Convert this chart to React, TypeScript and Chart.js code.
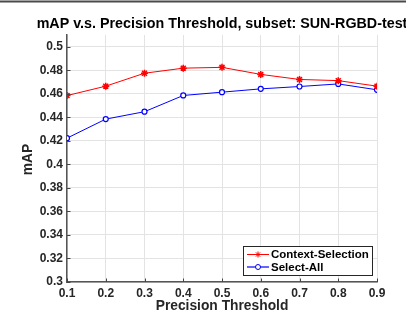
import React, { useEffect, useRef } from "react";
import { Chart, registerables } from "chart.js";

Chart.register(...registerables);

const thresholds = [0.1, 0.2, 0.3, 0.4, 0.5, 0.6, 0.7, 0.8, 0.9];
const contextSelection = [0.4585, 0.4665, 0.4775, 0.4818, 0.4825, 0.4765, 0.4722, 0.4712, 0.4665];
const selectAll = [0.4223, 0.4385, 0.4448, 0.4586, 0.4614, 0.4642, 0.4662, 0.4684, 0.4634];
const xTicks = [0.1, 0.2, 0.3, 0.4, 0.5, 0.6, 0.7, 0.8, 0.9];
const yTicks = [0.3, 0.32, 0.34, 0.36, 0.38, 0.4, 0.42, 0.44, 0.46, 0.48, 0.5];
const titleText = "mAP v.s. Precision Threshold, subset: SUN-RGBD-test";
const xTitle = "Precision Threshold";
const yTitle = "mAP";
const seriesNames = ["Context-Selection", "Select-All"];

const FONT = "'Liberation Sans', Arial, Helvetica, sans-serif";

const decor = {
  id: "decor",
  afterDraw(chart: any) {
    const ctx = chart.ctx;
    const a = chart.chartArea;
    const xs = chart.scales.x;
    const ys = chart.scales.y;
    ctx.save();
    // top border line
    ctx.strokeStyle = "#4a4a4a";
    ctx.lineWidth = 2;
    ctx.beginPath();
    ctx.moveTo(0, 1.5);
    ctx.lineTo(chart.width, 1.5);
    ctx.stroke();
    // inward ticks
    ctx.strokeStyle = "#444";
    ctx.lineWidth = 1;
    ctx.beginPath();
    for (const v of yTicks) {
      const y = Math.round(ys.getPixelForValue(v)) + 0.5;
      ctx.moveTo(a.left, y);
      ctx.lineTo(a.left + 3.5, y);
    }
    for (const v of xTicks) {
      const x = Math.round(xs.getPixelForValue(v)) + 0.5;
      ctx.moveTo(x, a.bottom);
      ctx.lineTo(x, a.bottom - 3.5);
    }
    ctx.stroke();
    // title
    ctx.fillStyle = "#000";
    ctx.font = `bold 14.3px ${FONT}`;
    ctx.textAlign = "center";
    ctx.textBaseline = "middle";
    ctx.fillText(titleText, (a.left + a.right) / 2, 24.5);
    // axis titles
    ctx.fillStyle = "#262626";
    ctx.font = `bold 13.8px ${FONT}`;
    ctx.fillText(xTitle, (a.left + a.right) / 2, 306);
    ctx.save();
    ctx.translate(28, (a.top + a.bottom) / 2 + 1);
    ctx.rotate(-Math.PI / 2);
    ctx.fillText(yTitle, 0, 0);
    ctx.restore();
    // legend
    const lx = 243, ly = 246, lw = 129, lh = 29;
    ctx.fillStyle = "#fff";
    ctx.fillRect(lx, ly, lw, lh);
    ctx.strokeStyle = "#262626";
    ctx.lineWidth = 1;
    ctx.strokeRect(lx + 0.5, ly + 0.5, lw, lh);
    const rows = [
      { y: ly + 8.5, color: "#ff0000", style: "star", lw: 1 },
      { y: ly + 21, color: "#0000ff", style: "circle", lw: 2 },
    ];
    rows.forEach((r, i) => {
      ctx.strokeStyle = r.color;
      ctx.lineWidth = r.lw;
      ctx.globalAlpha = i === 1 ? 0.6 : 1;
      ctx.beginPath();
      ctx.moveTo(lx + 4, r.y);
      ctx.lineTo(lx + 26, r.y);
      ctx.stroke();
      ctx.globalAlpha = 1;
      ctx.lineWidth = 1;
      ctx.strokeStyle = r.color;
      if (r.style === "circle") {
        ctx.fillStyle = "#fff";
        ctx.beginPath();
        ctx.arc(lx + 15, r.y, 2.5, 0, Math.PI * 2);
        ctx.fill();
        ctx.stroke();
      } else {
        const cx = lx + 15, s = 3;
        ctx.beginPath();
        ctx.moveTo(cx - s, r.y); ctx.lineTo(cx + s, r.y);
        ctx.moveTo(cx, r.y - s); ctx.lineTo(cx, r.y + s);
        ctx.moveTo(cx - s * 0.7, r.y - s * 0.7); ctx.lineTo(cx + s * 0.7, r.y + s * 0.7);
        ctx.moveTo(cx - s * 0.7, r.y + s * 0.7); ctx.lineTo(cx + s * 0.7, r.y - s * 0.7);
        ctx.stroke();
      }
      ctx.fillStyle = "#000";
      ctx.font = `bold 11.5px ${FONT}`;
      ctx.textAlign = "left";
      ctx.textBaseline = "middle";
      ctx.fillText(seriesNames[i], lx + 28, r.y + 0.5);
    });
    ctx.restore();
  },
};

export default function App() {
  const ref = useRef<HTMLCanvasElement>(null);
  useEffect(() => {
    document.body.style.margin = "0";
    const chart = new Chart(ref.current!, {
      type: "line",
      data: {
        datasets: [
          {
            label: seriesNames[0],
            data: thresholds.map((x, i) => ({ x, y: contextSelection[i] })),
            borderColor: "#ff0000",
            backgroundColor: "#ff0000",
            borderWidth: 1,
            pointStyle: "star",
            pointRadius: 3.5,
            pointBorderWidth: 1.5,
            pointBorderColor: "#ff0000",
          },
          {
            label: seriesNames[1],
            data: thresholds.map((x, i) => ({ x, y: selectAll[i] })),
            borderColor: "#0000ff",
            backgroundColor: "#ffffff",
            borderWidth: 1,
            pointStyle: "circle",
            pointRadius: 2.5,
            pointBorderWidth: 1.2,
            pointBorderColor: "#0000ff",
            pointBackgroundColor: "#ffffff",
          },
        ],
      },
      options: {
        responsive: false,
        animation: false,
        layout: { padding: { left: 0, right: 29, top: 35, bottom: 0 } },
        plugins: { legend: { display: false }, title: { display: false }, tooltip: { enabled: false } },
        scales: {
          x: {
            type: "linear",
            min: 0.1,
            max: 0.9,
            afterFit: (s: any) => { s.height = 30; },
            afterBuildTicks: (s: any) => { s.ticks = xTicks.map((v) => ({ value: v })); },
            ticks: {
              color: "#262626",
              font: { family: FONT, size: 12, weight: "bold" },
              padding: 4,
              maxRotation: 0,
              callback: (v: any) => String(Math.round(v * 10) / 10),
            },
            grid: { color: "#e3e3e3", lineWidth: 1, drawTicks: false, tickLength: 0 },
            border: { color: "#555", width: 1.5 },
          },
          y: {
            type: "linear",
            min: 0.3,
            max: 0.51,
            afterFit: (s: any) => { s.width = 67; },
            afterBuildTicks: (s: any) => { s.ticks = yTicks.map((v) => ({ value: v })); },
            ticks: {
              color: "#262626",
              font: { family: FONT, size: 12, weight: "bold" },
              padding: 4,
              callback: (v: any) => String(Math.round(v * 100) / 100),
            },
            grid: { color: "#e3e3e3", lineWidth: 1, drawTicks: false, tickLength: 0 },
            border: { color: "#555", width: 1.5 },
          },
        },
      },
      plugins: [decor],
    });
    return () => chart.destroy();
  }, []);
  return <canvas ref={ref} width={406} height={312} style={{ display: "block" }} />;
}
